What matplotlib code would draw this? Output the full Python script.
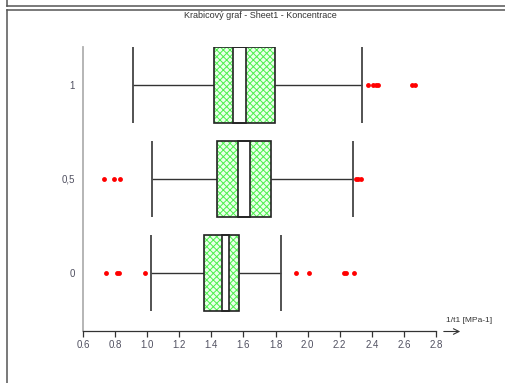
import matplotlib
matplotlib.use("Agg")
import matplotlib.pyplot as plt
from matplotlib.lines import Line2D

plt.rcParams['font.family'] = ['Liberation Sans', 'DejaVu Sans']
plt.rcParams['hatch.linewidth'] = 0.7

# Groups (bottom to top) and their box statistics
groups = ["0", "0,5", "1"]
whisker_lo = [1.024, 1.030, 0.911]
q1 = [1.352, 1.437, 1.418]
notch_lo = [1.466, 1.563, 1.535]
notch_hi = [1.513, 1.638, 1.618]
q3 = [1.574, 1.771, 1.796]
whisker_hi = [1.831, 2.282, 2.336]
outliers = [
    [0.745, 0.815, 0.825, 0.988, 1.929, 2.006, 2.228, 2.242, 2.290],
    [0.733, 0.795, 0.832, 2.300, 2.315, 2.335],
    [2.375, 2.410, 2.425, 2.440, 2.648, 2.672],
]
x_ticks = [0.6, 0.8, 1.0, 1.2, 1.4, 1.6, 1.8, 2.0, 2.2, 2.4, 2.6, 2.8]

W, H = 506, 383
fig = plt.figure(figsize=(W / 100, H / 100), dpi=100)
ax = fig.add_axes([83 / W, 1 - 331 / H, 353 / W, (331 - 46.7) / H])

box_h = 0.8
pos = list(range(len(groups)))
ink = "#333333"

for i in pos:
    # whisker line and caps
    ax.hlines(i, whisker_lo[i], q1[i], color=ink, lw=1.0, zorder=2)
    ax.hlines(i, q3[i], whisker_hi[i], color=ink, lw=1.0, zorder=2)
    ax.vlines([whisker_lo[i], whisker_hi[i]], i - box_h / 2, i + box_h / 2,
              color="#444444", lw=1.3, zorder=2)
    # hatched interquartile box
    ax.barh(i, q3[i] - q1[i], left=q1[i], height=box_h, color="#eaffea",
            edgecolor="#4cf04c", hatch="xxxxx", lw=0, zorder=3)
    ax.barh(i, q3[i] - q1[i], left=q1[i], height=box_h, fill=False,
            edgecolor="#222222", lw=1.2, zorder=5)
    # white band around the median
    ax.barh(i, notch_hi[i] - notch_lo[i], left=notch_lo[i], height=box_h,
            color="white", edgecolor="#222222", lw=1.2, zorder=4)
    # outlying values
    ax.plot(outliers[i], [i] * len(outliers[i]), "o", color="#ff0000",
            ms=3.5, mec="none", zorder=6)

ax.set_xlim(0.6, 2.8)
ax.set_ylim(-0.617, 2.407)
ax.set_xticks(x_ticks)
ax.set_xticklabels([f"{t:.1f}" for t in x_ticks])
ax.set_yticks(pos)
ax.set_yticklabels(groups)

for s in ("top", "right"):
    ax.spines[s].set_visible(False)
ax.spines["left"].set_color("#b0b0b0")
ax.spines["left"].set_linewidth(1.3)
ax.spines["bottom"].set_color("#333333")
ax.spines["bottom"].set_linewidth(0.9)
ax.tick_params(axis="x", direction="out", length=4.5, width=0.9,
               color="#333333", labelsize=7, labelcolor="#505060", pad=2)
ax.tick_params(axis="y", length=0, labelsize=7, labelcolor="#505060", pad=6)

# title
fig.text(260 / W, 1 - 15 / H, "Krabicový graf - Sheet1 - Koncentrace",
         ha="center", va="center", fontsize=6.5, color="#333333")

# axis arrow and unit label
fig.add_artist(matplotlib.patches.FancyArrowPatch(
    (441 / W, 1 - 331.5 / H), (463 / W, 1 - 331.5 / H),
    transform=fig.transFigure, arrowstyle="->,head_length=4,head_width=2",
    color="#333333", lw=0.8))
fig.text(469 / W, 1 - 321 / H, "1/t1 [MPa-1]", ha="center", va="center",
         fontsize=6, color="#333333")

# panel frame lines
frame = "#555555"
fig.add_artist(Line2D([7 / W, 1], [1 - 6 / H] * 2, color=frame, lw=1.1,
                      transform=fig.transFigure))
fig.add_artist(Line2D([7 / W] * 2, [1, 1 - 6 / H], color=frame, lw=1.1,
                      transform=fig.transFigure))
fig.add_artist(Line2D([7 / W, 1], [1 - 9.5 / H] * 2, color=frame, lw=1.1,
                      transform=fig.transFigure))
fig.add_artist(Line2D([7 / W] * 2, [1 - 9.5 / H, 0], color=frame, lw=1.1,
                      transform=fig.transFigure))

fig.savefig("out.png", dpi=100)
